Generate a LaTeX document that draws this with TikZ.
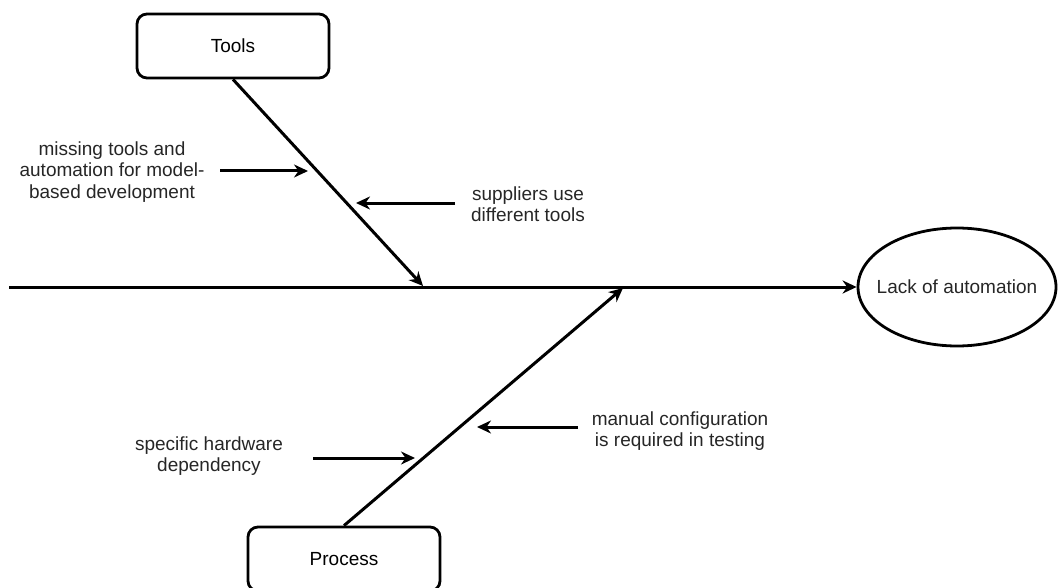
\documentclass[tikz,border=0pt]{standalone}
\usepackage{fontspec}
\setmainfont{Liberation Sans}
\usetikzlibrary{arrows.meta,shapes.geometric}
\begin{document}
\begin{tikzpicture}[x=1pt,y=-1pt,
  line/.style={line width=3pt,draw=black},
  arr/.style={line,-{Stealth[length=14pt,width=13pt,inset=4.5pt]}},
  catbox/.style={draw=black,line width=2.8pt,rounded corners=10pt,minimum width=192pt,minimum height=64pt,inner sep=0pt,font=\fontsize{19}{22}\selectfont},
  effect/.style={draw=black,line width=2.8pt,ellipse,minimum width=198pt,minimum height=118pt,inner sep=0pt},
  label/.style={inner sep=0pt,font=\fontsize{19}{22}\selectfont,text=black!85},
  cause/.style={align=center,inner sep=0pt,font=\fontsize{19}{21.5}\selectfont,text=black!85}
]
\useasboundingbox (0,0) rectangle (1059,588);

% head of the fishbone
\node[effect] (head) at (957,287) {};
\node[label] (headtext) at (head.center) {Lack of automation};

% category boxes
\node[catbox] (tools) at (233,46) {Tools};
\node[catbox] (proc) at (344,559) {Process};

% spine
\coordinate (tail) at (9,287);
\draw[arr] (tail) -- (head.west);

% bones
\coordinate (tj) at (423,286);
\coordinate (pj) at (623,288);
\draw[arr] (tools.south) -- (tj);
\draw[arr] (proc.north) -- (pj);

% causes
\node[cause] (c1) at (112,172) {missing tools and\\automation for model-\\based development};
\node[cause] (c2) at (528,204) {suppliers use\\different tools};
\node[cause] (c3) at (680,431) {manual configuration\\is required in testing};
\node[cause] (c4) at (209,456) {specific hardware\\dependency};

\coordinate (c1s) at (220,171);
\coordinate (c1e) at (308,171);
\coordinate (c2s) at (455,203);
\coordinate (c2e) at (356,203);
\coordinate (c3s) at (578,427);
\coordinate (c3e) at (477,427);
\coordinate (c4s) at (313,458);
\coordinate (c4e) at (415,458);

\draw[arr] (c1s) -- (c1e);
\draw[arr] (c2s) -- (c2e);
\draw[arr] (c3s) -- (c3e);
\draw[arr] (c4s) -- (c4e);
\end{tikzpicture}
\end{document}
